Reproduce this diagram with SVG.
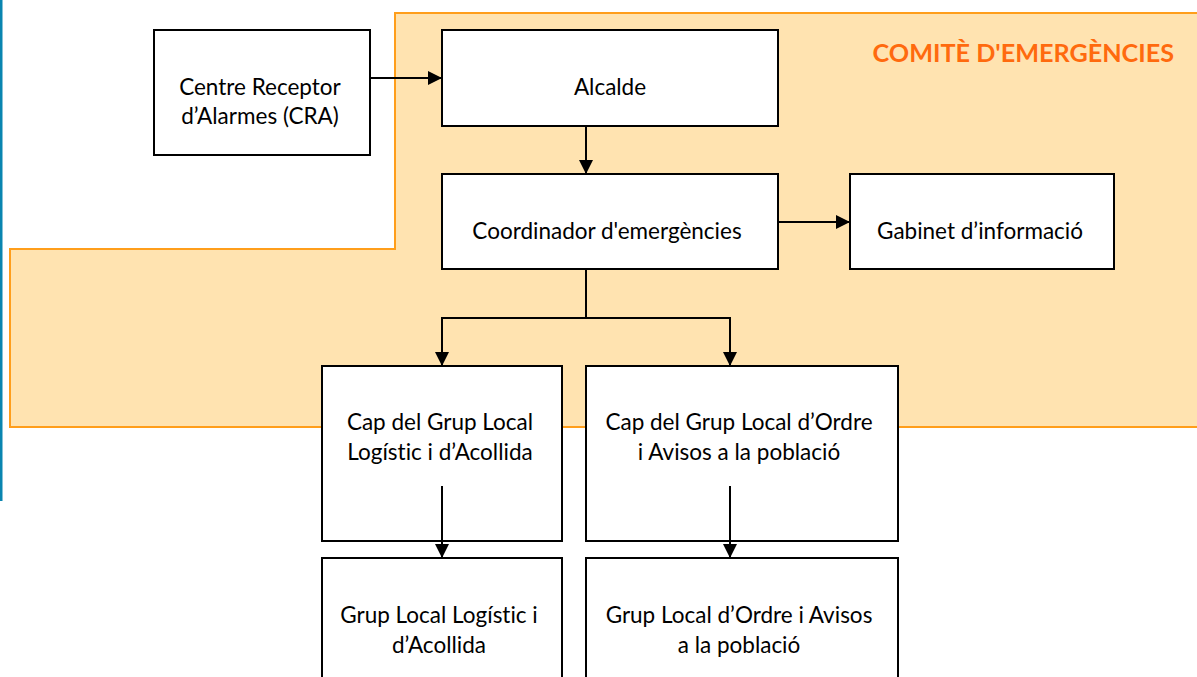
<svg xmlns="http://www.w3.org/2000/svg" width="1197" height="677" viewBox="0 0 1197 677">
<style>
.box{fill:#fff;stroke:#000;stroke-width:2}
.t{font-family:Lato,"Open Sans","Liberation Sans",sans-serif;font-size:22.5px;fill:#000;text-anchor:middle;font-variant-ligatures:none}
.c{fill:none;stroke:#000;stroke-width:2}
</style>
<defs>
<marker id="ah" markerWidth="14" markerHeight="14" refX="14" refY="7" orient="auto" markerUnits="userSpaceOnUse">
<path d="M0,0 L14,7 L0,14 z" fill="#000"/>
</marker>
</defs>
<rect x="0" y="0" width="1197" height="677" fill="#fff"/>
<rect x="0" y="0" width="2.5" height="501" fill="#0A85B0"/>
<g id="comite">
<path d="M395,13 H1199 V427 H10 V249 H395 Z" fill="#FFE3B0" stroke="#FF9E1B" stroke-width="2"/>
<text x="1174" y="62" text-anchor="end" font-family="Lato,'Open Sans','Liberation Sans',sans-serif" font-weight="bold" font-size="25.2" fill="#FF6A0E">COMITÈ D'EMERGÈNCIES</text>
</g>
<g id="connectors">
<path class="c" d="M370,78 H442" marker-end="url(#ah)"/>
<path class="c" d="M586,126 V174" marker-end="url(#ah)"/>
<path class="c" d="M778,222 H850" marker-end="url(#ah)"/>
<path class="c" d="M586,269 V318 H442 V366" marker-end="url(#ah)"/>
<path class="c" d="M586,318 H730 V366" marker-end="url(#ah)"/>
</g>
<g id="cra">
<rect class="box" x="154" y="30" width="216" height="125"/>
<text class="t" x="260" y="95">Centre Receptor</text>
<text class="t" x="260" y="124">d’Alarmes (CRA)</text>
</g>
<g id="alcalde">
<rect class="box" x="442" y="30" width="336" height="96"/>
<text class="t" x="610" y="95">Alcalde</text>
</g>
<g id="coordinador">
<rect class="box" x="442" y="174" width="336" height="95"/>
<text class="t" x="607" y="239">Coordinador d'emergències</text>
</g>
<g id="gabinet">
<rect class="box" x="850" y="174" width="264" height="95"/>
<text class="t" x="980" y="239">Gabinet d’informació</text>
</g>
<g id="cap-logistic">
<rect class="box" x="322" y="366" width="240" height="175"/>
<text class="t" x="440" y="430">Cap del Grup Local</text>
<text class="t" x="440" y="460">Logístic i d’Acollida</text>
</g>
<g id="cap-ordre">
<rect class="box" x="586" y="366" width="312" height="175"/>
<text class="t" x="739" y="430">Cap del Grup Local d’Ordre</text>
<text class="t" x="739" y="460">i Avisos a la població</text>
</g>
<g id="connectors-inner">
<path class="c" d="M442,486 V558" marker-end="url(#ah)"/>
<path class="c" d="M730,486 V558" marker-end="url(#ah)"/>
</g>
<g id="grup-logistic">
<rect class="box" x="322" y="558" width="240" height="125"/>
<text class="t" x="439" y="623">Grup Local Logístic i</text>
<text class="t" x="439" y="653">d’Acollida</text>
</g>
<g id="grup-ordre">
<rect class="box" x="586" y="558" width="312" height="125"/>
<text class="t" x="739" y="623">Grup Local d’Ordre i Avisos</text>
<text class="t" x="739" y="653">a la població</text>
</g>
</svg>
